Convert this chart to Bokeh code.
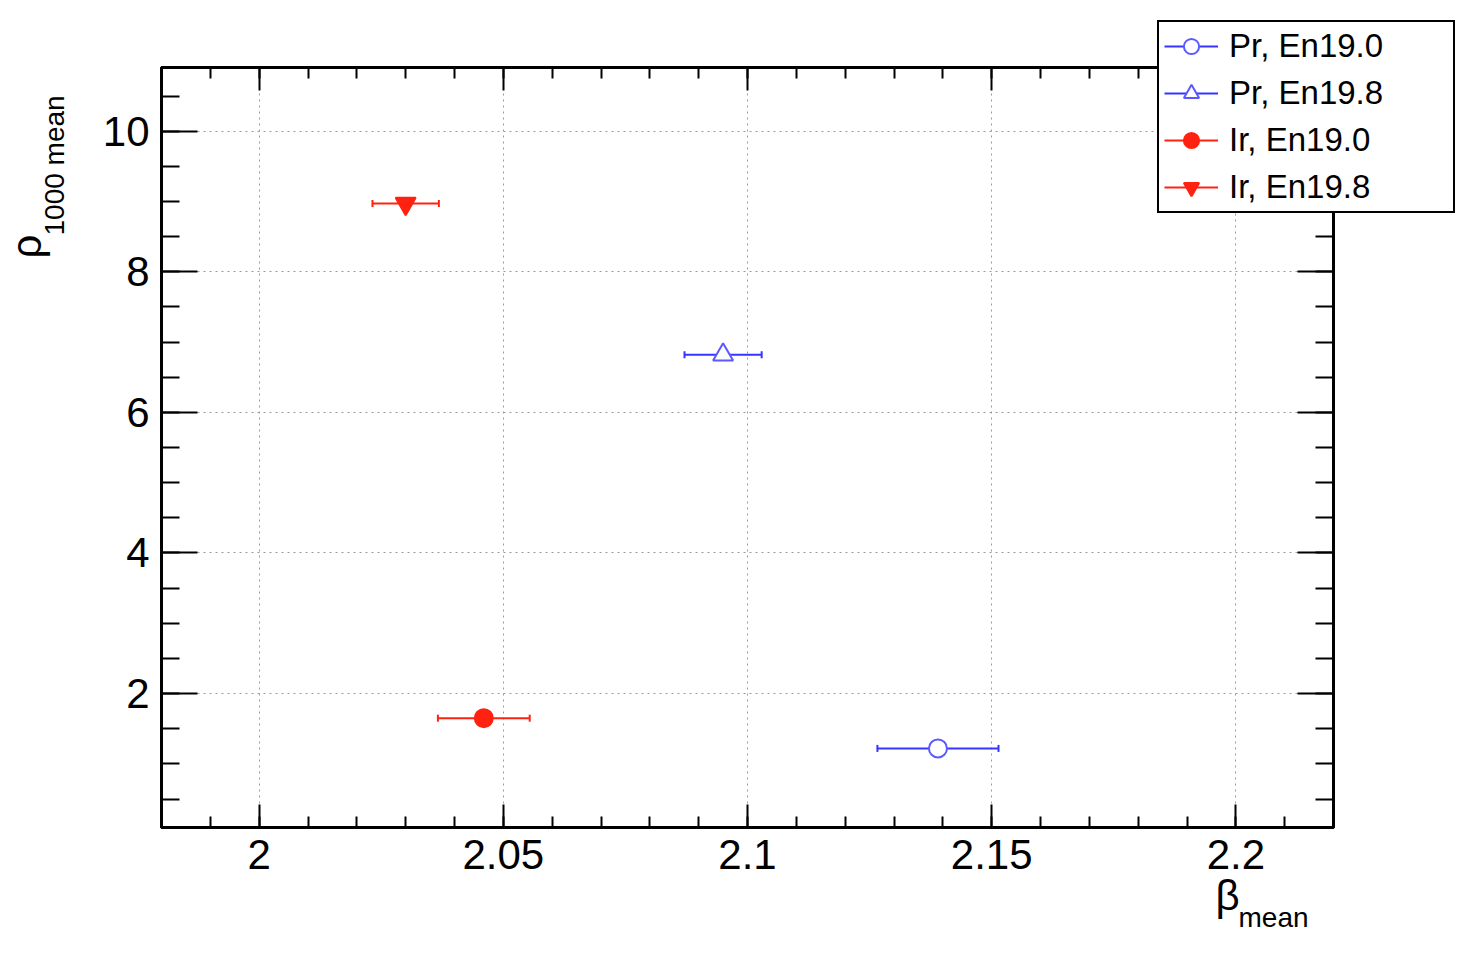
import numpy as np
from bokeh.plotting import figure
from bokeh.models import (ColumnDataSource, LinearAxis, SingleIntervalTicker,
                          CustomJSTickFormatter, Legend, LegendItem, Label, Range1d)
from bokeh.embed import file_html
from bokeh.resources import INLINE

# ---- data ----
series_names = ["Pr, En19.0", "Pr, En19.8", "Ir, En19.0", "Ir, En19.8"]
beta_mean = [2.139, 2.095, 2.046, 2.030]
beta_err = [0.0124, 0.0079, 0.0094, 0.0068]
rho_mean = [1.22, 6.82, 1.65, 8.97]

x_tick_interval = 0.05
y_tick_interval = 2
X_RANGE = (1.98, 2.22)
Y_RANGE = (0.095, 10.906)

BLUE = "#3535ff"
BLUE_M = "#5a5aff"
RED = "#ff2211"
line_colors = [BLUE, BLUE, RED, RED]
marker_colors = [BLUE_M, BLUE_M, RED, RED]
fill_colors = ["white", "white", RED, RED]
markers = ["circle", "triangle", "circle", "inverted_triangle"]
marker_sizes = [18, 20, 18, 20]

FONT = "Liberation Sans"

# page layout (pixels)
W, H = 1460, 940
FL, FR, FT, FB = 161, 1333, 67, 827   # frame edges
LEG_X, LEG_Y = 1156, 19                # legend panel top-left on the page
SHIFT = 14                             # baseline correction for the titles


def xd(px):
    return X_RANGE[0] + (px - FL) * (X_RANGE[1] - X_RANGE[0]) / (FR - FL)


def yd(py):
    return Y_RANGE[0] + (FB - py) * (Y_RANGE[1] - Y_RANGE[0]) / (FB - FT)


p = figure(width=W, height=H, x_range=Range1d(*X_RANGE), y_range=Range1d(*Y_RANGE),
           output_backend="svg", toolbar_location=None,
           min_border_left=FL, min_border_right=W - FR,
           min_border_top=FT, min_border_bottom=H - FB)
p.outline_line_color = "black"
p.outline_line_width = 3
p.background_fill_color = "white"
p.border_fill_color = "white"

xt = SingleIntervalTicker(interval=x_tick_interval, num_minor_ticks=5)
yt = SingleIntervalTicker(interval=y_tick_interval, num_minor_ticks=4)
fmt = CustomJSTickFormatter(code="return String(Number(tick.toFixed(4)));")
blank = CustomJSTickFormatter(code="return '';")


def style_axis(ax, major_in, minor_in, labels=True):
    ax.axis_line_width = 3
    ax.axis_line_color = "black"
    ax.major_tick_in = major_in
    ax.major_tick_out = 0
    ax.minor_tick_in = minor_in
    ax.minor_tick_out = 0
    ax.major_tick_line_width = 2
    ax.minor_tick_line_width = 2
    ax.major_tick_line_color = "black"
    ax.minor_tick_line_color = "black"
    ax.major_label_text_font = FONT
    ax.major_label_text_color = "black"
    if labels:
        ax.major_label_text_font_size = "42px"
    else:
        ax.formatter = blank
        ax.major_label_text_font_size = "1px"
        ax.major_label_standoff = 0


xa = p.xaxis[0]
xa.ticker = xt
xa.formatter = fmt
style_axis(xa, 23, 11)
xa.major_label_standoff = 12

ya = p.yaxis[0]
ya.ticker = yt
style_axis(ya, 36, 18)
ya.major_label_standoff = 12

top = LinearAxis(ticker=xt)
style_axis(top, 23, 11, labels=False)
p.add_layout(top, "above")
right = LinearAxis(ticker=yt)
style_axis(right, 36, 18, labels=False)
p.add_layout(right, "right")

for g in (p.xgrid[0], p.ygrid[0]):
    g.grid_line_color = "#9a9a9a"
    g.grid_line_dash = "dotted"
    g.grid_line_width = 1

# separate small figure that carries the legend, laid over the frame corner
q = figure(width=300, height=198, x_range=Range1d(0, 1), y_range=Range1d(0, 1),
           x_axis_type=None, y_axis_type=None, output_backend="svg",
           toolbar_location=None, min_border=0)
q.outline_line_color = None
q.background_fill_alpha = 0
q.border_fill_alpha = 0

items = []
for i, name in enumerate(series_names):
    b = beta_mean[i]
    e = beta_err[i]
    r = rho_mean[i]
    src = ColumnDataSource(dict(x=[b], y=[r], x0=[b - e], x1=[b + e]))
    p.segment(x0="x0", y0="y", x1="x1", y1="y", source=src,
              line_color=line_colors[i], line_width=2)
    p.scatter(x="x0", y="y", source=src, marker="dash", angle=np.pi / 2,
              size=7, line_color=line_colors[i], line_width=2)
    p.scatter(x="x1", y="y", source=src, marker="dash", angle=np.pi / 2,
              size=7, line_color=line_colors[i], line_width=2)
    p.scatter(x="x", y="y", source=src, marker=markers[i],
              size=marker_sizes[i], line_color=marker_colors[i],
              fill_color=fill_colors[i], line_width=2)
    # same series in the legend figure (its points fall outside q's ranges)
    lseg = q.segment(x0="x0", y0="y", x1="x1", y1="y", source=src,
                     line_color=line_colors[i], line_width=2)
    lsc = q.scatter(x="x", y="y", source=src, marker=markers[i],
                    size=marker_sizes[i], line_color=marker_colors[i],
                    fill_color=fill_colors[i], line_width=2)
    items.append(LegendItem(label=name, renderers=[lseg, lsc]))

legend = Legend(items=items, location="top_left", margin=1,
                padding=5, spacing=9,
                glyph_width=54, glyph_height=38, label_standoff=11,
                label_width=219, label_text_font=FONT,
                label_text_font_size="33px", label_text_color="black",
                border_line_color="black", border_line_width=2,
                border_line_alpha=1.0,
                background_fill_color="white", background_fill_alpha=1.0)
q.add_layout(legend, "center")
q.styles = {"position": "absolute", "left": f"{LEG_X}px", "top": f"{LEG_Y}px",
            "z-index": "10"}


def lab(text, px, py, size, angle=0.0):
    return Label(x=xd(px), y=yd(py), text=text, angle=angle,
                 text_font=FONT, text_font_size=size, text_color="black",
                 text_baseline="alphabetic", text_align="left")


# axis titles with subscripts (placed in side panels so they are not clipped)
p.add_layout(lab("1000 mean", 68 - SHIFT, 235, "28px", np.pi / 2), "left")
p.add_layout(lab("β", 1215, 909 - SHIFT, "42px"), "left")
p.add_layout(lab("ρ", 40 - SHIFT, 258, "42px", np.pi / 2), "below")
p.add_layout(lab("mean", 1238, 931 - SHIFT, "28px"), "above")

open("out.html", "w").write(file_html([p, q], INLINE))
